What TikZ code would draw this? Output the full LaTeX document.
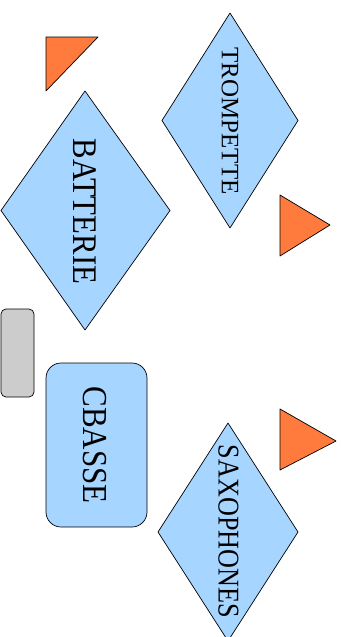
\documentclass[tikz,border=0pt]{standalone}
\usepackage{fontspec}
\setmainfont{Liberation Serif}
\definecolor{lblue}{HTML}{A6D5FF}
\definecolor{orng}{HTML}{FF7B3D}
\definecolor{gbox}{HTML}{CCCCCC}
\begin{document}
\begin{tikzpicture}[x=1pt,y=-1pt,
  shapeln/.style={draw=black,line width=0.7pt,line join=round},
  bluefill/.style={shapeln,fill=lblue},
  tri/.style={shapeln,fill=orng},
  lbl/.style={inner sep=0pt,rotate=-90,anchor=center}]
\useasboundingbox (0,0) rectangle (340,637);
% triangles
\draw[tri] (46,37) -- (98,37) -- (46,91) -- cycle;
\draw[tri] (280,195) -- (330,225) -- (280,256) -- cycle;
\draw[tri] (280,409) -- (336,441) -- (280,470) -- cycle;
% diamonds
\draw[bluefill] (230,13) -- (298,120.5) -- (230,228) -- (162,120.5) -- cycle;
\draw[bluefill] (85,91) -- (170,210.5) -- (85,330) -- (1,210.5) -- cycle;
\draw[bluefill] (228,423) -- (298,532) -- (228,641) -- (158,532) -- cycle;
% rounded boxes
\draw[shapeln,fill=gbox,rounded corners=5pt] (1,309) rectangle (34,397);
\draw[bluefill,rounded corners=15pt] (46,363) rectangle (147,527);
% labels
\node[lbl] (trompette) at (230,121) {\fontsize{25}{30}\selectfont TROMPETTE};
\node[lbl] (batterie) at (84.5,211.5) {\scalebox{1}[1.12]{\fontsize{30.8}{36}\selectfont BATTERIE}};
\node[lbl] (cbasse) at (95,445) {\scalebox{1}[1.13]{\fontsize{31}{36}\selectfont CBASSE}};
\node[lbl] (saxophones) at (228.5,531.5) {\scalebox{1}[1.15]{\fontsize{26.2}{32}\selectfont SAXOPHONES}};
\end{tikzpicture}
\end{document}
